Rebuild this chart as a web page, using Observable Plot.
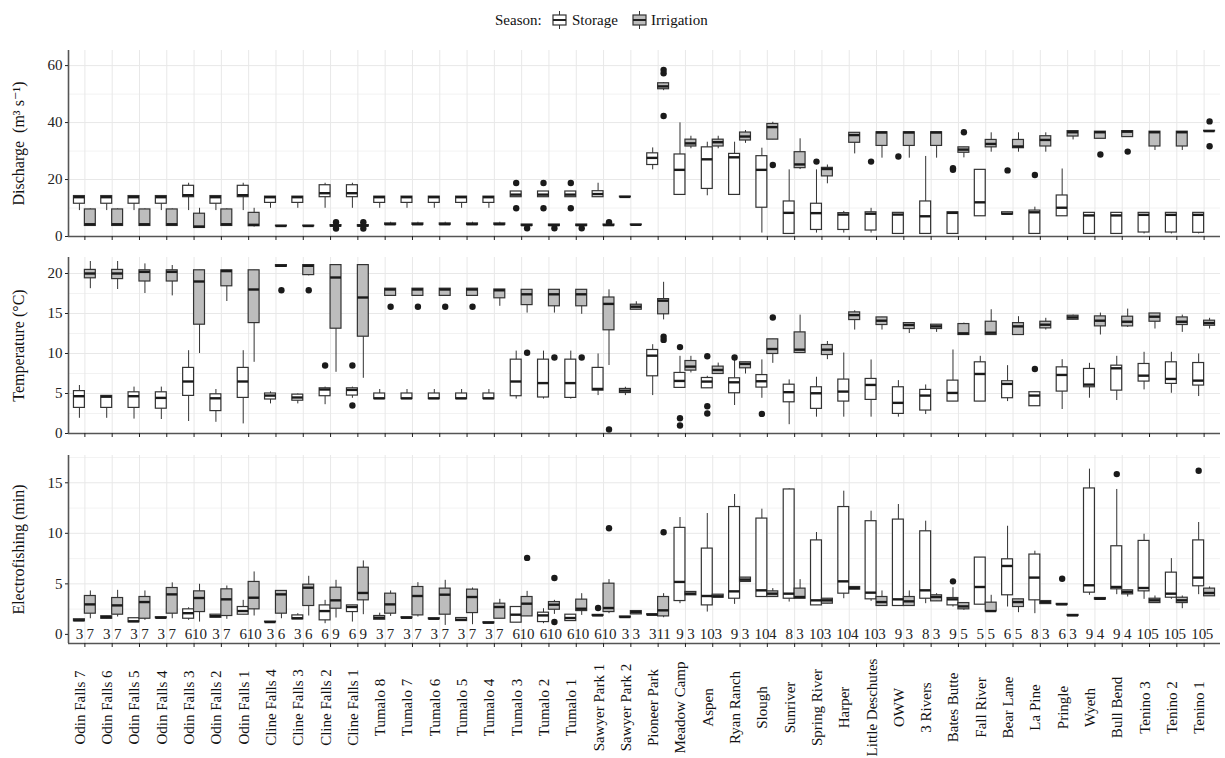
<!DOCTYPE html>
<html><head><meta charset="utf-8">
<script src="https://cdn.jsdelivr.net/npm/d3@7"></script>
<script src="https://cdn.jsdelivr.net/npm/@observablehq/plot@0.6"></script>
<style>
body{margin:0;background:#fff;font-family:"Liberation Serif","DejaVu Serif","Times New Roman",serif;}
#wrap{position:relative;width:1225px;height:758px;overflow:hidden;}
.panel{position:absolute;left:0;}
.panel svg, .panel svg g, .panel svg text{font-family:"Liberation Serif","DejaVu Serif","Times New Roman",serif !important;}
.panel svg g[aria-label="y-axis tick label"] text{font-size:15px !important;}
.lg{position:absolute;top:11px;font-size:15px;color:#111;line-height:18px;}
</style></head><body>
<div id="wrap">
  <span class="lg" style="left:495px">Season:</span>
  <svg class="lg" style="left:552px;top:11px" width="15" height="18"><line x1="7.5" x2="7.5" y1="0" y2="18" stroke="#333"/><rect x="1" y="4" width="13" height="10" fill="#fff" stroke="#333" stroke-width="1.2"/><line x1="1" x2="14" y1="9" y2="9" stroke="#222" stroke-width="2"/></svg>
  <span class="lg" style="left:572px">Storage</span>
  <svg class="lg" style="left:632px;top:11px" width="15" height="18"><line x1="7.5" x2="7.5" y1="0" y2="18" stroke="#333"/><rect x="1" y="4" width="13" height="10" fill="#bdbdbd" stroke="#333" stroke-width="1.2"/><line x1="1" x2="14" y1="9" y2="9" stroke="#222" stroke-width="2"/></svg>
  <span class="lg" style="left:651px">Irrigation</span>
  <div id="p1" class="panel" style="top:40px"></div>
  <div id="p2" class="panel" style="top:245px"></div>
  <div id="p3" class="panel" style="top:445px"></div>
</div>
<script>
const sites = ["Odin Falls 7","Odin Falls 6","Odin Falls 5","Odin Falls 4","Odin Falls 3","Odin Falls 2","Odin Falls 1",
"Cline Falls 4","Cline Falls 3","Cline Falls 2","Cline Falls 1",
"Tumalo 8","Tumalo 7","Tumalo 6","Tumalo 5","Tumalo 4","Tumalo 3","Tumalo 2","Tumalo 1",
"Sawyer Park 1","Sawyer Park 2","Pioneer Park","Meadow Camp","Aspen","Ryan Ranch","Slough","Sunriver","Spring River",
"Harper","Little Deschutes","OWW","3 Rivers","Bates Butte","Fall River","Bear Lane","La Pine","Pringle","Wyeth",
"Bull Bend","Tenino 3","Tenino 2","Tenino 1"];
const seasons = ["Storage","Irrigation"];

// box statistics per site: [lower whisker, Q1, median, Q3, upper whisker]
const dischargeStorage = [
[9.1,11.5,13.8,14.2,14.2],[9.1,11.5,13.8,14.2,14.2],[9.1,11.5,13.8,14.2,14.2],[9.1,11.5,13.8,14.2,14.2],
[9.1,13.8,14.5,17.8,18.7],[9.1,11.5,13.8,14.2,14.2],[9.1,13.8,14.5,17.8,18.7],
[9.9,11.8,13.8,14.0,14.0],[9.9,11.8,13.8,14.0,14.0],[9.9,13.8,15.2,18.0,18.7],[9.9,13.8,15.2,18.0,18.7],
[9.9,11.8,13.8,14.0,14.0],[9.9,11.8,13.8,14.0,14.0],[9.9,11.8,13.8,14.0,14.0],[9.9,11.8,13.8,14.0,14.0],[9.9,11.8,13.8,14.0,14.0],
[13.8,13.8,14.7,15.8,15.8],[13.8,13.8,14.7,15.8,15.8],[13.8,13.8,14.7,15.8,15.8],
[13.8,13.8,14.9,15.9,18.7],[13.8,13.8,13.9,14.0,14.0],[23.4,25.1,27.6,29.2,31.1],
[14.6,14.6,23.4,28.8,39.9],[14.3,16.7,27.1,31.3,33.1],[14.6,14.6,27.8,29.0,33.1],[1.2,10.1,23.4,28.2,31.0],
[0.9,0.9,8.3,12.3,23.4],[1.2,2.3,8.2,11.5,23.4],[1.2,2.3,7.7,8.2,8.8],[1.2,2.1,8.0,8.5,9.9],
[0.9,0.9,7.7,8.3,8.3],[0.9,0.9,7.1,12.3,28.1],[0.9,0.9,8.3,8.5,8.5],[7.1,7.1,12.0,23.4,23.4],
[7.7,7.7,8.0,8.5,8.5],[0.9,0.9,8.5,9.1,10.3],[7.1,7.1,10.1,14.4,23.7],[0.9,0.9,7.4,8.3,8.3],
[0.9,0.9,7.4,8.3,8.3],[0.9,1.4,7.6,8.3,8.3],[0.9,1.4,7.6,8.3,8.3],[0.9,1.3,7.6,8.3,8.3]];
const dischargeIrrigation = [
[3.7,3.7,4.3,9.5,9.7],[3.7,3.7,4.3,9.5,9.7],[3.7,3.7,4.3,9.5,9.7],[3.7,3.7,4.3,9.5,9.7],
[3.0,3.0,3.5,8.0,9.9],[3.7,3.7,4.3,9.5,9.7],[3.3,3.6,4.1,8.3,9.9],
[3.6,3.6,3.7,3.8,3.8],[3.6,3.6,3.7,3.8,3.8],[3.5,3.5,3.8,4.0,4.0],[3.5,3.5,3.8,4.0,4.0],
[4.1,4.1,4.3,4.6,5.0],[4.1,4.1,4.3,4.6,5.0],[4.1,4.1,4.3,4.6,5.0],[4.1,4.1,4.3,4.6,5.0],[4.1,4.1,4.3,4.6,5.0],
[3.7,3.7,4.0,4.2,4.2],[3.7,3.7,4.0,4.2,4.2],[3.7,3.7,4.0,4.2,4.2],
[3.8,3.8,4.0,4.2,4.2],[4.0,4.0,4.1,4.2,4.2],[51.2,51.7,52.7,53.8,54.0],
[30.8,31.6,32.7,34.0,35.2],[30.8,31.6,33.1,34.0,35.2],[32.7,33.7,35.1,36.5,37.2],[34.0,34.0,38.4,39.5,40.1],
[23.5,24.0,25.3,29.6,34.3],[18.5,21.1,23.7,24.1,25.1],[29.0,32.9,35.6,36.4,36.4],[27.5,31.8,36.5,36.6,36.6],
[27.5,31.8,36.5,36.6,36.6],[27.5,31.8,36.5,36.6,36.6],[27.6,29.4,30.5,31.3,31.3],[29.6,31.3,32.5,33.9,36.4],
[29.6,31.0,31.6,33.9,36.4],[29.6,31.6,33.9,35.2,36.4],[33.9,35.1,36.6,37.0,37.0],[34.3,34.3,36.6,36.8,36.8],
[34.9,34.9,36.8,37.0,37.0],[30.2,31.6,36.6,36.8,36.8],[30.2,31.6,36.6,36.8,36.8],[36.9,36.9,37.0,37.1,37.1]];
// outliers: [site index, season, value]
const dischargeOutliers = [
[16,"Storage",18.8],[16,"Storage",9.9],[17,"Storage",18.8],[17,"Storage",9.9],[18,"Storage",18.8],[18,"Storage",9.9],
[27,"Storage",26.3],[29,"Storage",26.3],[30,"Storage",28.1],[32,"Storage",23.4],[32,"Storage",24.0],[34,"Storage",23.2],[35,"Storage",21.6],
[9,"Irrigation",5.0],[9,"Irrigation",2.8],[10,"Irrigation",5.0],[10,"Irrigation",2.8],[16,"Irrigation",2.9],[17,"Irrigation",2.9],[18,"Irrigation",2.9],
[19,"Irrigation",5.0],[21,"Irrigation",58.5],[21,"Irrigation",57.3],[21,"Irrigation",42.3],[25,"Irrigation",25.1],[32,"Irrigation",36.6],
[37,"Irrigation",28.8],[38,"Irrigation",29.8],[41,"Irrigation",40.4],[41,"Irrigation",31.7]];

const temperatureStorage = [
[1.9,3.2,4.66,5.3,6.0],[1.9,3.2,4.6,4.7,4.7],[1.8,3.2,4.66,5.15,5.8],[1.75,3.1,4.45,5.15,5.8],
[1.5,4.7,6.5,8.2,10.35],[1.4,2.8,4.4,4.9,5.5],[1.2,4.45,6.5,8.2,10.35],
[3.7,4.25,4.74,5.0,5.2],[3.7,4.1,4.5,4.86,4.95],[3.6,4.66,5.5,5.65,5.8],[4.4,4.74,5.45,5.65,5.8],
[4.3,4.3,4.4,5.0,5.5],[4.3,4.3,4.4,5.0,5.5],[4.3,4.3,4.4,5.0,5.5],[4.3,4.3,4.4,5.0,5.5],[4.3,4.3,4.4,5.0,5.5],
[4.3,4.66,6.5,9.23,10.3],[4.3,4.5,6.3,9.23,10.3],[4.3,4.45,6.3,9.23,10.3],
[4.74,5.36,5.57,8.2,9.94],[4.74,5.07,5.36,5.57,5.78],[4.74,7.15,9.73,10.44,11.1],
[5.7,5.7,6.57,7.57,9.65],[5.65,5.65,6.49,6.94,7.15],[3.5,5.03,6.4,6.9,9.2],[4.4,5.74,6.53,7.3,9.2],
[1.1,3.9,5.16,6.1,6.7],[2.04,3.08,5.03,5.78,7.03],[2.04,3.99,5.24,6.74,10.06],[2.04,4.2,6.07,6.82,9.19],
[2.04,2.45,3.83,5.78,6.61],[2.37,2.87,4.74,5.45,6.07],[3.99,3.99,5.07,6.61,10.44],[3.99,3.99,7.44,8.9,9.65],
[3.99,4.41,6.2,6.53,8.48],[3.41,3.41,4.74,5.16,5.2],[3.0,5.24,7.32,8.27,9.23],[4.41,5.78,6.11,8.07,8.77],
[4.12,5.36,8.15,8.48,9.65],[5.45,6.49,7.23,8.69,10.15],[5.03,6.2,6.82,8.9,10.15],[4.62,5.99,6.61,8.81,9.94]];
const temperatureIrrigation = [
[18.1,19.4,20.0,20.45,21.5],[18.0,19.3,20.0,20.45,21.5],[17.5,19.0,20.2,20.4,21.2],[17.2,19.0,20.2,20.4,21.0],
[10.0,13.6,19.0,20.4,20.4],[16.5,18.4,20.3,20.4,20.4],[8.9,13.8,18.0,20.4,20.4],
[20.85,20.85,20.96,21.05,21.05],[19.7,19.8,20.96,21.05,21.05],[7.65,13.1,19.5,21.05,21.05],[6.9,12.1,17.0,21.05,21.05],
[17.2,17.2,18.0,18.1,18.1],[17.2,17.2,18.0,18.1,18.1],[17.2,17.2,18.0,18.1,18.1],[17.2,17.2,18.0,18.1,18.1],[15.9,16.9,17.9,18.0,18.0],
[15.05,16.05,17.4,17.96,17.96],[15.05,15.9,17.4,17.96,17.96],[14.9,15.9,17.4,17.96,17.96],
[8.5,12.9,16.2,17.0,17.96],[15.47,15.47,15.85,16.1,16.47],[14.2,14.9,16.6,16.8,18.9],
[7.57,7.86,8.36,9.06,9.65],[7.44,7.44,7.94,8.36,8.8],[7.44,8.15,8.7,8.9,8.9],[8.77,9.94,10.56,11.77,11.77],
[10.06,10.06,10.48,12.64,14.8],[9.23,9.81,10.48,11.06,11.5],[12.93,14.18,14.8,15.14,15.34],[12.93,13.56,14.1,14.51,14.51],
[12.5,13.06,13.56,13.8,13.8],[12.64,13.06,13.39,13.6,13.6],[12.31,12.31,12.52,13.68,13.8],[12.31,12.31,12.6,13.97,15.47],
[12.31,12.31,13.39,13.8,14.6],[12.93,13.14,13.6,13.97,14.4],[14.22,14.22,14.51,14.72,14.8],[12.31,13.39,14.1,14.64,15.05],
[13.26,13.39,13.97,14.6,15.55],[13.06,13.97,14.6,15.0,15.0],[12.64,13.56,13.97,14.51,14.8],[13.06,13.47,13.8,14.1,14.4]];
const temperatureOutliers = [
[9,"Storage",8.5],[10,"Storage",8.5],[10,"Storage",3.5],[22,"Storage",10.8],[22,"Storage",1.9],[22,"Storage",1.0],
[23,"Storage",9.65],[23,"Storage",3.4],[23,"Storage",2.5],[24,"Storage",9.5],[25,"Storage",2.45],[35,"Storage",8.07],
[7,"Irrigation",17.9],[8,"Irrigation",17.9],[11,"Irrigation",15.85],[12,"Irrigation",15.85],[13,"Irrigation",15.85],[14,"Irrigation",15.85],
[16,"Irrigation",10.1],[17,"Irrigation",9.5],[18,"Irrigation",9.5],[19,"Irrigation",0.5],[21,"Irrigation",12.1],[21,"Irrigation",11.7],[25,"Irrigation",14.5]];

const fishingStorage = [
[1.3,1.3,1.4,1.5,1.5],[1.55,1.55,1.7,1.8,1.8],[1.2,1.2,1.3,1.6,1.6],[1.6,1.6,1.65,1.7,1.7],
[1.39,1.55,2.1,2.48,2.64],[1.65,1.65,1.8,1.95,1.95],[1.95,1.95,2.31,2.71,3.37],
[1.2,1.2,1.22,1.26,1.26],[1.49,1.49,1.6,1.88,2.05],[1.06,1.39,2.31,2.87,3.37],[1.22,2.21,2.71,2.87,2.87],
[1.45,1.45,1.65,1.82,2.1],[1.6,1.6,1.65,1.7,1.7],[1.5,1.5,1.55,1.6,1.6],[1.32,1.32,1.45,1.62,1.62],[1.1,1.1,1.16,1.2,1.2],
[1.16,1.16,1.95,2.71,2.71],[1.06,1.22,1.88,2.15,2.54],[1.32,1.32,1.62,1.95,1.95],
[1.83,1.83,1.88,1.93,1.93],[1.67,1.67,1.72,1.77,1.77],[1.9,1.9,1.95,2.0,2.0],
[3.04,3.3,5.19,10.54,11.56],[2.21,2.87,3.8,8.49,11.96],[2.97,3.53,4.26,12.6,13.84],[3.7,3.7,4.36,11.46,12.39],
[3.2,3.53,4.03,14.34,14.4],[2.87,2.87,3.37,9.3,10.08],[3.53,4.03,5.25,12.6,14.17],[3.27,3.47,4.13,11.2,12.19],
[2.81,2.81,3.47,11.36,12.85],[3.04,3.53,4.36,10.2,11.2],[2.71,2.87,3.47,3.6,4.62],[2.94,2.94,4.69,7.6,7.6],
[2.71,3.87,6.77,7.43,10.7],[2.05,3.37,5.62,7.9,8.23],[2.92,2.92,2.97,3.02,3.02],[3.87,4.13,4.86,14.44,16.35],
[3.93,4.46,4.69,8.72,14.34],[3.47,4.26,4.59,9.25,9.91],[3.47,3.63,4.03,6.11,7.5],[3.93,4.76,5.62,9.3,11.07]];
const fishingIrrigation = [
[1.55,2.05,2.97,3.8,4.3],[1.72,1.95,2.87,3.6,4.36],[1.39,1.55,3.2,3.7,4.3],[1.55,2.05,3.96,4.59,5.1],
[1.22,2.21,3.6,4.26,4.96],[1.49,1.82,3.47,4.46,4.79],[1.82,2.48,3.63,5.19,6.18],
[1.55,2.05,3.96,4.3,4.3],[1.82,2.81,4.62,4.92,5.75],[1.62,2.54,3.37,4.62,5.35],[1.95,3.37,4.1,6.6,7.27],
[1.78,2.05,2.97,4.03,4.3],[1.72,1.88,3.8,4.69,5.12],[0.89,1.95,3.93,4.53,5.35],[0.96,2.11,3.7,4.43,4.59],[1.55,1.55,2.71,3.04,3.47],
[1.78,1.78,3.04,3.7,4.26],[1.98,2.44,2.94,3.2,3.37],[1.88,2.31,2.54,3.44,4.03],
[2.05,2.21,2.61,5.02,5.42],[1.98,1.98,2.21,2.31,2.31],[1.65,1.78,2.38,3.7,4.03],
[3.87,3.87,4.03,4.2,4.2],[3.63,3.63,3.77,3.93,3.93],[5.19,5.19,5.42,5.62,5.62],[3.7,3.7,4.03,4.26,4.53],
[3.53,3.53,3.7,4.53,5.42],[3.04,3.04,3.37,3.53,3.53],[4.43,4.43,4.59,4.69,4.69],[2.81,2.81,3.2,3.7,4.3],
[2.81,2.81,3.27,3.7,4.3],[3.27,3.27,3.7,3.87,4.03],[2.38,2.48,2.77,3.1,3.1],[2.28,2.28,2.31,3.14,3.87],
[2.15,2.71,3.2,3.47,3.47],[3.0,3.0,3.2,3.3,3.3],[1.83,1.83,1.88,1.93,1.93],[3.45,3.45,3.53,3.6,3.6],
[3.7,3.96,4.2,4.36,4.36],[3.1,3.1,3.37,3.53,3.8],[2.54,3.1,3.37,3.63,3.8],[3.77,3.77,4.1,4.53,4.69]];
const fishingOutliers = [
[19,"Storage",2.61],[32,"Storage",5.25],[36,"Storage",5.5],[38,"Storage",15.86],[41,"Storage",16.19],
[16,"Irrigation",7.57],[17,"Irrigation",5.58],[17,"Irrigation",1.22],[19,"Irrigation",10.5],[21,"Irrigation",10.1]];

// sample sizes shown under the electrofishing boxes
const storageN = [3,3,3,3,6,3,6,3,3,6,6,3,3,3,3,3,6,6,6,6,3,3,9,10,9,10,8,10,10,10,9,8,9,5,6,8,6,9,9,10,10,10];
const irrigationN = [7,7,7,7,10,7,10,6,6,9,9,7,7,7,7,7,10,10,10,10,3,11,3,3,3,4,3,3,4,3,3,3,5,5,5,3,3,4,4,5,5,5];

const offset = {Storage: -0.2, Irrigation: 0.2};
const half = 0.2;
const idx = d3.range(sites.length);
const serif = "Liberation Serif, DejaVu Serif, Times New Roman, serif";

function toRows(stats, season) {
  return stats.map((s, i) => ({i, season, min: s[0], q1: s[1], med: s[2], q3: s[3], max: s[4]}));
}
const xpos = d => d.i + offset[d.season];

function panel(el, o) {
  const st = toRows(o.storage, "Storage");
  const ir = toRows(o.irrigation, "Irrigation");
  const all = st.concat(ir);
  const outs = o.outliers.map(([i, season, v]) => ({i, season, v}));
  const marks = [
    Plot.ruleY(o.minor, {stroke: "#efefef", strokeWidth: 0.8}),
    Plot.ruleY(o.major, {stroke: "#e8e8e8", strokeWidth: 1}),
    Plot.ruleX(idx, {stroke: "#e8e8e8", strokeWidth: 1}),
    Plot.ruleX(all, {x: xpos, y1: "min", y2: "max", stroke: "#333", strokeWidth: 1}),
    Plot.rect(st, {x1: d => xpos(d) - half, x2: d => xpos(d) + half, y1: "q1", y2: "q3", fill: "#ffffff", stroke: "#333", strokeWidth: 1.2}),
    Plot.rect(ir, {x1: d => xpos(d) - half, x2: d => xpos(d) + half, y1: "q1", y2: "q3", fill: "#bdbdbd", stroke: "#333", strokeWidth: 1.2}),
    Plot.ruleY(all, {y: "med", x1: d => xpos(d) - half, x2: d => xpos(d) + half, stroke: "#1a1a1a", strokeWidth: 2.4}),
    Plot.dot(outs, {x: xpos, y: "v", r: 3.2, fill: "#1a1a1a", stroke: null}),
    Plot.ruleX([-0.6], {stroke: "#555", strokeWidth: 1.6}),
    Plot.ruleY([o.domain[0]], {stroke: "#555", strokeWidth: 1.6}),
    Plot.axisY({ticks: o.ticks, tickSize: 3, tickPadding: 3, label: null, fill: "#222", fontSize: 15, fontFamily: serif}),
    Plot.axisX({ticks: idx, tickSize: 4, tickFormat: () => "", label: null}),
    Plot.text([o.label], {frameAnchor: "left", dx: -56, rotate: -90, textAnchor: "middle", lineAnchor: "top", fontSize: 16, fill: "#111", fontFamily: serif})
  ];
  if (o.extra) marks.push(...o.extra);
  const chart = Plot.plot({
    width: 1225, height: o.height,
    marginLeft: 68, marginRight: 5, marginTop: o.marginTop, marginBottom: o.marginBottom,
    x: {type: "linear", domain: [-0.6, 41.6]},
    y: {domain: o.domain},
    style: {fontFamily: serif, fontSize: "15px", color: "#222", background: "transparent"},
    marks
  });
  document.getElementById(el).appendChild(chart);
}

panel("p1", {
  storage: dischargeStorage, irrigation: dischargeIrrigation, outliers: dischargeOutliers,
  domain: [0, 65.3], ticks: [0, 20, 40, 60], major: [20, 40, 60], minor: [10, 30, 50],
  label: "Discharge  (m\u00B3 s\u207B\u00B9)", height: 205, marginTop: 10, marginBottom: 9
});
panel("p2", {
  storage: temperatureStorage, irrigation: temperatureIrrigation, outliers: temperatureOutliers,
  domain: [0, 22], ticks: [0, 5, 10, 15, 20], major: [5, 10, 15, 20], minor: [2.5, 7.5, 12.5, 17.5],
  label: "Temperature (\u00B0C)", height: 200, marginTop: 12, marginBottom: 12
});
const counts = [];
idx.forEach(i => {
  counts.push({i, season: "Storage", n: storageN[i]});
  counts.push({i, season: "Irrigation", n: irrigationN[i]});
});
panel("p3", {
  storage: fishingStorage, irrigation: fishingIrrigation, outliers: fishingOutliers,
  domain: [-0.9, 17.7], ticks: [0, 5, 10, 15], major: [5, 10, 15], minor: [2.5, 7.5, 12.5, 17.5],
  label: "Electrofishing (min)", height: 313, marginTop: 10, marginBottom: 115,
  extra: [
    Plot.text(counts, {x: xpos, y: 0, text: d => String(d.n), fontSize: 15, fill: "#222", fontFamily: serif}),
    Plot.text(sites, {x: (d, i) => i, text: d => d, frameAnchor: "bottom", rotate: -90, textAnchor: "middle", dy: 64, fontSize: 15, fill: "#111", fontFamily: serif})
  ]
});
</script>
</body></html>
